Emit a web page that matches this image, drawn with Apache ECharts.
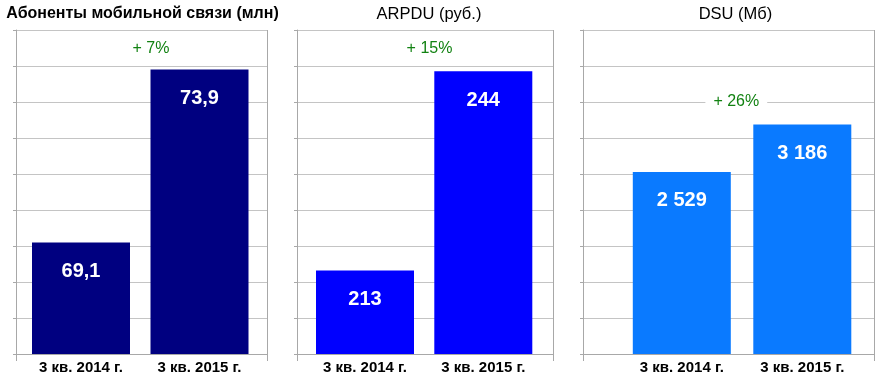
<!DOCTYPE html>
<html>
<head>
<meta charset="utf-8">
<script src="https://cdn.jsdelivr.net/npm/echarts@6/dist/echarts.min.js"></script>
<style>
html,body{margin:0;padding:0;background:#fff;}
#c{width:887px;height:380px;}
</style>
</head>
<body>
<div id="c"></div>
<script>
// ---- data ----
const categories = ['3 кв. 2014 г.', '3 кв. 2015 г.'];
const subscribers = [69.1, 73.9];   // млн
const arpdu = [213, 244];           // руб.
const dsu = [2529, 3186];           // Мб
const panelTitles = ['Абоненты мобильной связи (млн)', 'ARPDU (руб.)', 'DSU (Мб)'];
const growthLabels = ['+ 7%', '+ 15%', '+ 26%'];

// ---- styling / layout ----
const FONT = "'Liberation Sans', Arial, sans-serif";
const colors = ['#000080', '#0000ff', '#0a7aff'];
const seriesData = [subscribers, arpdu, dsu];
const valueRanges = [[66, 75], [200, 250.4], [0, 4500]];
const frames = [
  {left: 16, width: 251},
  {left: 297, width: 256},
  {left: 583, width: 291}
];
const barGrids = [
  {left: 21.75, width: 237},
  {left: 305.85, width: 236.6},
  {left: 621.55, width: 241}
];
const titlePos = [[142.5, 14, 'bold'], [429, 14, 'normal'], [735.5, 14, 'normal']];
const growthPos = [[151, 48.5, false], [429.5, 48.5, false], [736.3, 102, true]];

function fmt(v) {
  const s = String(v).replace('.', ',');
  const parts = s.split(',');
  parts[0] = parts[0].replace(/\B(?=(\d{3})+(?!\d))/g, ' ');
  return parts.join(',');
}

const grid = [], xAxis = [], yAxis = [], series = [], graphic = [];
const GRID_LINE = '#c4c4c4';
const AXIS_LINE = '#a8a8a8';

for (let i = 0; i < 3; i++) {
  // frame grid (gridlines, axes)
  grid.push({left: frames[i].left, width: frames[i].width, top: 30, height: 324, containLabel: false});
  const fi = grid.length - 1;
  xAxis.push({
    gridIndex: fi, type: 'value', min: 0, max: 1, interval: 1,
    axisLabel: {show: false},
    axisLine: {show: true, lineStyle: {color: AXIS_LINE}},
    axisTick: {show: true, length: 7, lineStyle: {color: AXIS_LINE}},
    splitLine: {show: true, lineStyle: {color: AXIS_LINE}}
  });
  yAxis.push({
    gridIndex: fi, type: 'value', min: 0, max: 9, interval: 1,
    axisLabel: {show: false},
    axisLine: {show: true, lineStyle: {color: AXIS_LINE}},
    axisTick: {show: true, length: 3, lineStyle: {color: AXIS_LINE}},
    splitLine: {show: true, lineStyle: {color: GRID_LINE}}
  });
  // bar grid
  grid.push({left: barGrids[i].left, width: barGrids[i].width, top: 30, height: 324, containLabel: false});
  const bi = grid.length - 1;
  xAxis.push({
    gridIndex: bi, type: 'category', data: categories,
    axisLine: {show: false}, axisTick: {show: false}, splitLine: {show: false},
    axisLabel: {color: '#000', fontFamily: FONT, fontWeight: 'bold', fontSize: 15, margin: 6}
  });
  yAxis.push({
    gridIndex: bi, type: 'value', min: valueRanges[i][0], max: valueRanges[i][1],
    show: false, splitLine: {show: false}
  });
  series.push({
    type: 'bar', xAxisIndex: bi, yAxisIndex: bi,
    data: seriesData[i], barWidth: 98,
    itemStyle: {color: colors[i]},
    label: {
      show: true, position: 'insideTop', distance: 19,
      color: '#fff', fontFamily: FONT, fontWeight: 'bold', fontSize: 20,
      formatter: p => fmt(p.value)
    },
    silent: true, animation: false
  });
  graphic.push({
    type: 'text', x: titlePos[i][0], y: titlePos[i][1],
    style: {
      text: panelTitles[i], fill: '#000',
      font: titlePos[i][2] + ' ' + (i === 0 ? 16 : 16.5) + 'px ' + FONT,
      textAlign: 'center', textVerticalAlign: 'middle', align: 'center', verticalAlign: 'middle'
    }
  });
  const gs = {
    text: growthLabels[i], fill: '#128212',
    font: 'normal 16px ' + FONT,
    textAlign: 'center', textVerticalAlign: 'middle', align: 'center', verticalAlign: 'middle'
  };
  if (growthPos[i][2]) { gs.backgroundColor = '#fff'; gs.padding = [2, 8]; }
  graphic.push({type: 'text', x: growthPos[i][0], y: growthPos[i][1], z: 100, style: gs});
}

const chart = echarts.init(document.getElementById('c'), null, {renderer: 'canvas'});
chart.setOption({
  animation: false,
  backgroundColor: '#fff',
  grid, xAxis, yAxis, series, graphic
});
</script>
</body>
</html>
